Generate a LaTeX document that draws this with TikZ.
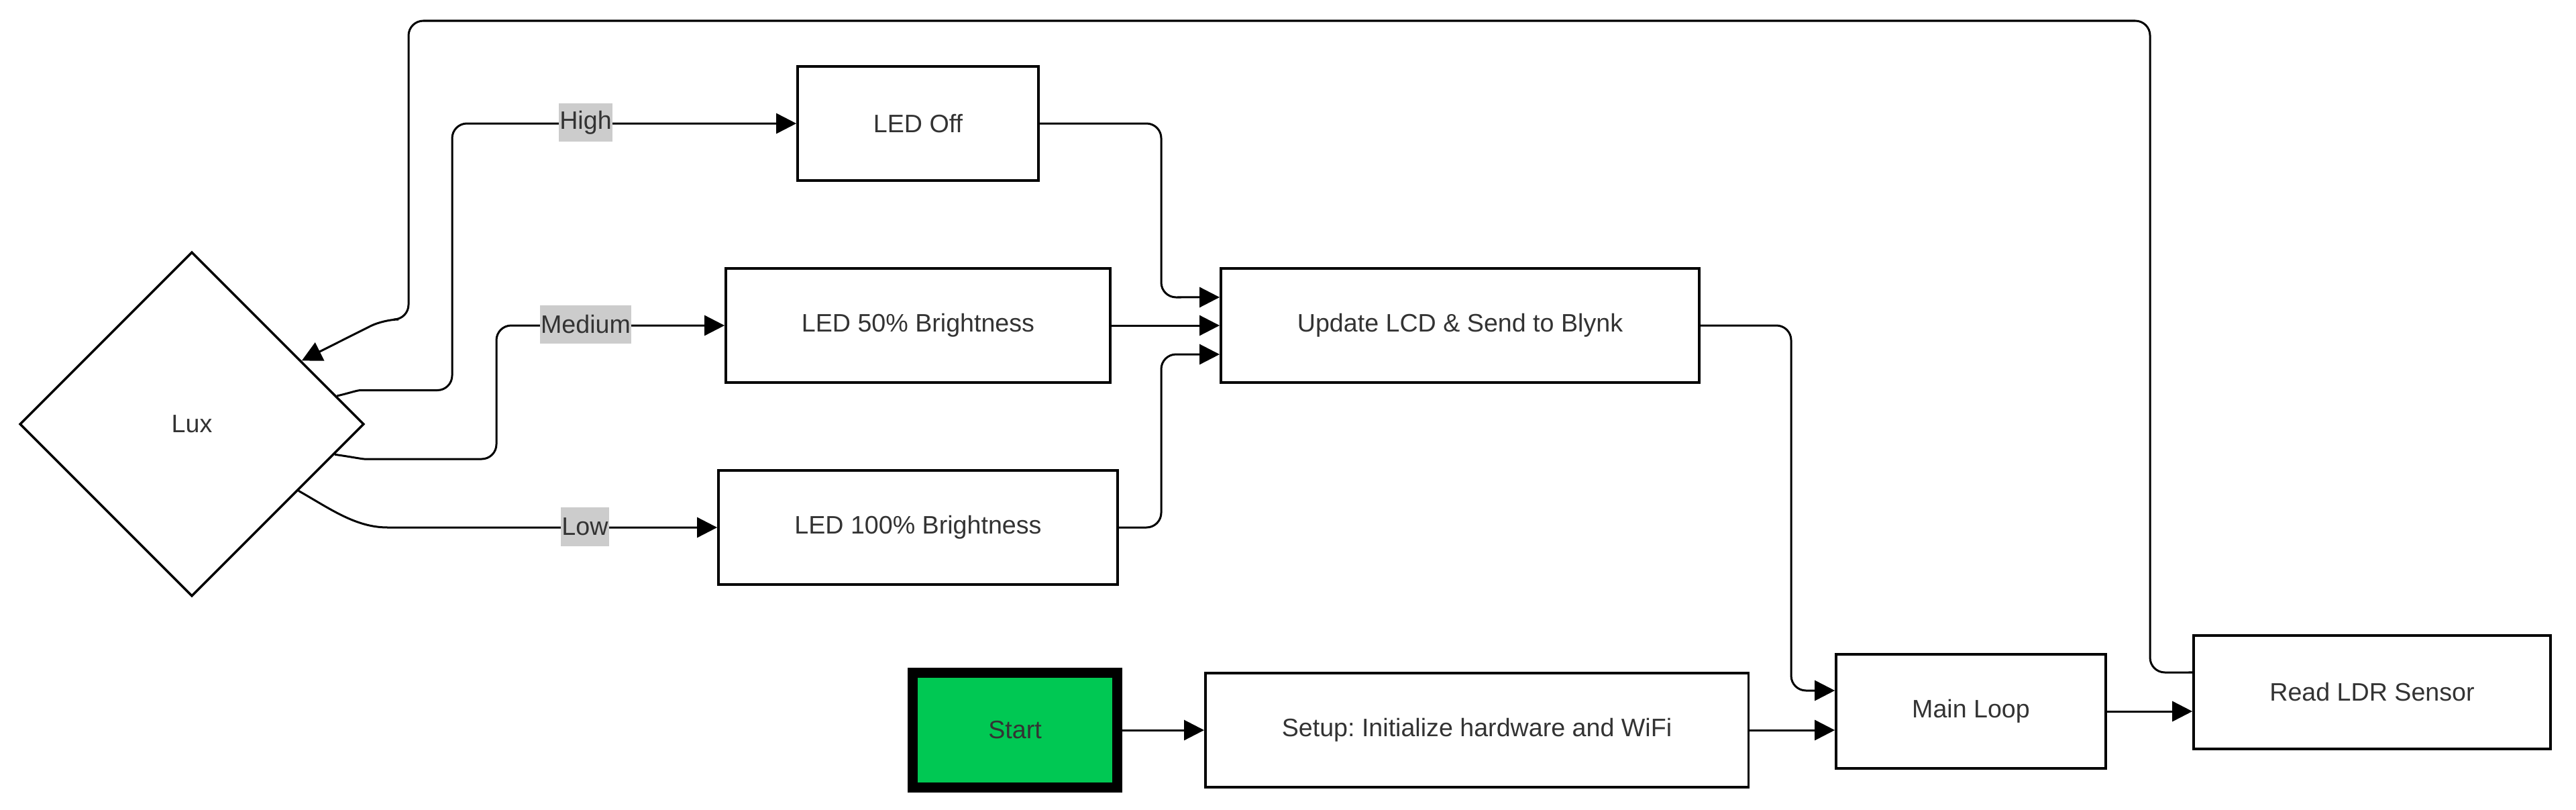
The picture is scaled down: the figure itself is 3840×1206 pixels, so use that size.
\documentclass[tikz,border=0pt]{standalone}
\usepackage{fontspec}
\setmainfont{Liberation Sans}
\usetikzlibrary{shapes.geometric,arrows.meta}
\frenchspacing
\definecolor{txt}{HTML}{333333}
\definecolor{startgreen}{HTML}{00C853}
\definecolor{lblgray}{HTML}{CCCCCC}
\tikzset{
  box/.style={draw=black, line width=0.035cm, fill=white, text=txt, inner sep=0pt,
    font=\fontsize{10.7}{12.8}\selectfont},
  dia/.style={diamond, draw=black, line width=0.035cm, fill=white, text=txt, inner sep=0pt,
    minimum width=5.13cm, minimum height=5.13cm, font=\fontsize{10.7}{12.8}\selectfont},
  startbox/.style={box, fill=startgreen, line width=0.15cm},
  arr/.style={draw=black, line width=0.03cm, rounded corners=0.22cm,
    -{Triangle[length=0.3cm, width=0.3cm]}},
  lbl/.style={fill=lblgray, text=txt, inner xsep=0.012cm, inner ysep=0pt,
    minimum height=0.57cm, font=\fontsize{10.7}{12.8}\selectfont}
}
\begin{document}
\begin{tikzpicture}[x=0.01cm, y=-0.01cm]
\useasboundingbox (0,0) rectangle (3840,1206);

% nodes
\node[dia] (lux) at (286,632) {Lux};
\node[box, minimum width=3.59cm, minimum height=1.70cm] (ledoff) at (1368.5,184) {LED Off};
\node[box, minimum width=5.73cm, minimum height=1.70cm] (led50) at (1368.5,485) {LED 50\% Brightness};
\node[box, minimum width=5.95cm, minimum height=1.70cm] (led100) at (1368.5,786) {LED 100\% Brightness};
\node[box, minimum width=7.13cm, minimum height=1.70cm] (update) at (2176.5,485) {Update LCD \& Send to Blynk};
\node[startbox, minimum width=3.05cm, minimum height=1.70cm] (start) at (1513,1088) {Start};
\node[box, minimum width=8.09cm, minimum height=1.70cm] (setup) at (2201.5,1088) {Setup: Initialize hardware and WiFi};
\node[box, minimum width=4.02cm, minimum height=1.70cm] (mainloop) at (2938,1060) {Main Loop};
\node[box, minimum width=5.32cm, minimum height=1.69cm] (readldr) at (3536,1031.5) {Read LDR Sensor};

% connectors
\draw[arr] (start.east) -- (start.east -| setup.west);
\draw[arr] (setup.east) -- (setup.east -| mainloop.west);
\draw[arr] (mainloop.east) -- (mainloop.east -| readldr.west);
\draw[arr] (update.east) -- (2670,485) -- (2670,1029) -- ([yshift=0.31cm]mainloop.west);
\draw[arr] ([yshift=0.295cm]readldr.west) -- (3205,1002) -- (3205,31) -- (609,31) -- (609,476) -- (572,476) -- (lux.30);

\draw[arr] (lux.11) .. controls (520,586) and (532,581.5) .. (560,581.5) -- (674,581.5) -- (674,184) -- (ledoff.west);
\draw[arr] (lux.-12) .. controls (525,681) and (540,684) .. (565,684) -- (740,684) -- (740,485) -- (led50.west);
\draw[arr] (lux.-32) .. controls (492,758) and (530,786) .. (600,786) -- (led100.west);

\draw[arr] (ledoff.east) -- (1731,184) -- (1731,443) -- ([yshift=0.42cm]update.west);
\draw[arr] (led50.east) -- (update.west);
\draw[arr] (led100.east) -- (1731,786) -- (1731,528) -- ([yshift=-0.43cm]update.west);

% edge labels
\node[lbl] (lhigh) at (873,182.5) {High};
\node[lbl] (lmed) at (873,483.5) {Medium};
\node[lbl] (llow) at (872,785) {Low};
\end{tikzpicture}
\end{document}
